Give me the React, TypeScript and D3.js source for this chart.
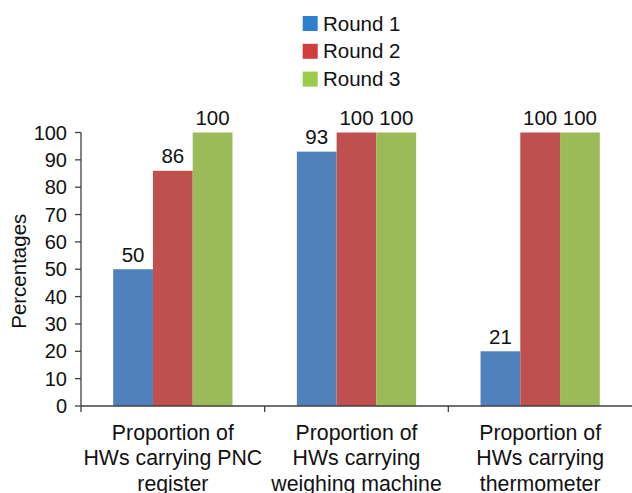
import React from 'react';
import * as d3 from 'd3';

const categories = ['PNC register', 'Weighing machine', 'Thermometer'];
const categoryLines = [
  ['Proportion of', 'HWs carrying PNC', 'register'],
  ['Proportion of', 'HWs carrying', 'weighing machine'],
  ['Proportion of', 'HWs carrying', 'thermometer'],
];
const seriesNames = ['Round 1', 'Round 2', 'Round 3'];
const round1 = [50, 93, 20];
const round2 = [86, 100, 100];
const round3 = [100, 100, 100];
const round1Labels = ['50', '93', '21'];
const round2Labels = ['86', '100', '100'];
const round3Labels = ['100', '100', '100'];
const yTicks = [0, 10, 20, 30, 40, 50, 60, 70, 80, 90, 100];

const barColors = ['#4F81BD', '#C0504D', '#9BBB59'];
const legendColors = ['#2F7FD1', '#D13C3C', '#9ACB4A'];

const W = 632;
const H = 493;
const margin = { top: 132.5, right: 0, bottom: 87, left: 81 };
const font = '"Liberation Sans", Arial, sans-serif';

const App: React.FC = () => {
  const values = [round1, round2, round3];
  const labels = [round1Labels, round2Labels, round3Labels];

  const x0 = d3.scaleBand<string>()
    .domain(categories)
    .range([margin.left, W - margin.right])
    .paddingInner(0)
    .paddingOuter(0);

  const x1 = d3.scaleBand<string>()
    .domain(seriesNames)
    .range([0, x0.bandwidth()])
    .paddingInner(0)
    .paddingOuter(0.81);

  const y = d3.scaleLinear()
    .domain([0, 100])
    .range([H - margin.bottom, margin.top]);

  const axisColor = '#404040';
  const baseY = y(0);

  return (
    <svg width={W} height={H} style={{ position: 'absolute', left: 0, top: 0, background: '#fff' }}>
      {/* legend */}
      {seriesNames.map((s, i) => {
        const ly = 16 + i * 27.8;
        return (
          <g key={s}>
            <rect x={302.7} y={ly} width={15} height={15} fill={legendColors[i]} />
            <text x={323} y={ly + 14.5} fontFamily={font} fontSize={20.5} fill="#111">{s}</text>
          </g>
        );
      })}

      {/* bars */}
      {categories.map((c, ci) => (
        <g key={c} transform={`translate(${x0(c)},0)`}>
          {seriesNames.map((s, si) => {
            const v = values[si][ci];
            return (
              <rect key={s} x={x1(s)} y={y(v)} width={x1.bandwidth()} height={baseY - y(v)} fill={barColors[si]} />
            );
          })}
          {seriesNames.map((s, si) => {
            const v = values[si][ci];
            return (
              <text key={s + 'l'} x={(x1(s) || 0) + x1.bandwidth() / 2} y={y(v) - 7.5}
                textAnchor="middle" fontFamily={font} fontSize={20.5} fill="#111">
                {labels[si][ci]}
              </text>
            );
          })}
        </g>
      ))}

      {/* y axis */}
      <line x1={margin.left} x2={margin.left} y1={y(100)} y2={baseY} stroke={axisColor} strokeWidth={1.3} />
      {yTicks.map(t => (
        <g key={t}>
          <line x1={margin.left - 6} x2={margin.left} y1={y(t)} y2={y(t)} stroke={axisColor} strokeWidth={1.3} />
          <text x={margin.left - 14} y={y(t) + 7} textAnchor="end" fontFamily={font} fontSize={20} fill="#111">{t}</text>
        </g>
      ))}
      <text transform={`translate(25.5,${(y(0) + y(100)) / 2 + 2}) rotate(-90)`} textAnchor="middle"
        fontFamily={font} fontSize={20.5} fill="#111">Percentages</text>

      {/* x axis */}
      <line x1={margin.left} x2={W} y1={baseY} y2={baseY} stroke={axisColor} strokeWidth={1.3} />
      {categories.map(c => (
        <line key={c + 't'} x1={x0(c)} x2={x0(c)} y1={baseY} y2={baseY + 6} stroke={axisColor} strokeWidth={1.3} />
      ))}
      {categories.map((c, ci) => (
        <text key={c + 'x'} x={(x0(c) || 0) + x0.bandwidth() / 2} textAnchor="middle" fontFamily={font} fontSize={21.3} fill="#111">
          {categoryLines[ci].map((line, li) => (
            <tspan key={li} x={(x0(c) || 0) + x0.bandwidth() / 2} y={439.5 + li * 25.5}>{line}</tspan>
          ))}
        </text>
      ))}
    </svg>
  );
};

export default App;
